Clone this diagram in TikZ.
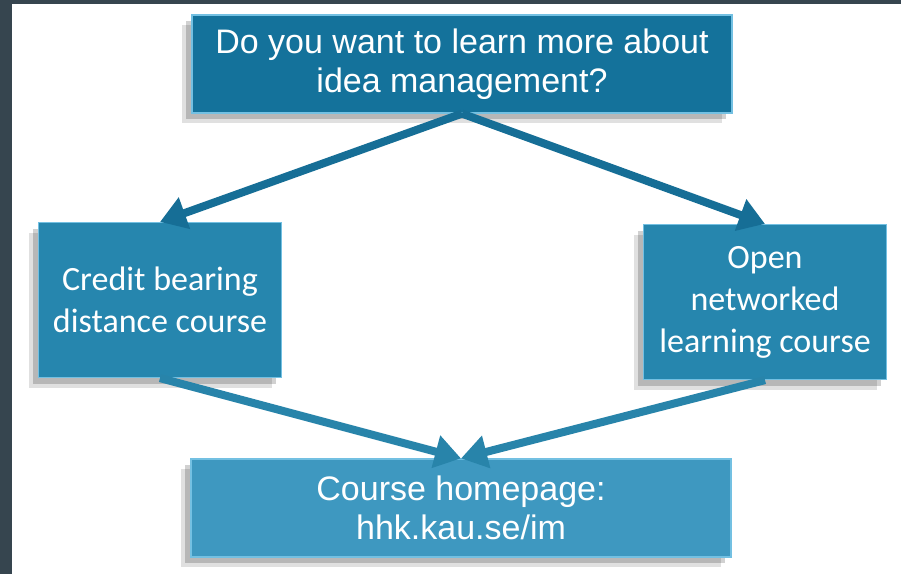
\documentclass[tikz,border=0pt]{standalone}
\usepackage{fontspec}
\setmainfont{Liberation Sans}
\newfontfamily\calibri{Carlito}
\usepackage{xcolor}
\usetikzlibrary{arrows.meta,shadows}
\definecolor{slate}{RGB}{54,69,79}
\definecolor{topblue}{RGB}{20,114,155}
\definecolor{midblue}{RGB}{38,134,174}
\definecolor{lowblue}{RGB}{62,152,192}
\definecolor{rimblue}{RGB}{115,192,226}
\definecolor{pipedark}{RGB}{22,110,150}
\definecolor{pipemid}{RGB}{40,132,170}
\tikzstyle{box} = [rectangle, draw=rimblue, line width=1.2pt, text=white, inner sep=0pt, align=center,
  drop shadow={shadow xshift=-10pt, shadow yshift=-10pt, opacity=0.12, fill=black},
  drop shadow={shadow xshift=-6pt, shadow yshift=-6pt, opacity=0.18, fill=black}]
\tikzstyle{wide} = [box, minimum width=540pt, minimum height=98pt, font=\fontsize{34}{39}\selectfont]
\tikzstyle{course} = [box, fill=midblue, minimum width=243pt, minimum height=155pt, font=\calibri\fontsize{34}{42}\selectfont]
\tikzstyle{pipe} = [line width=8pt]

\begin{document}
\begin{tikzpicture}[x=1pt,y=-1pt,->,>={Triangle[length=26pt,width=32pt]}]
  \useasboundingbox (0,0) rectangle (901,574);
  \fill[white] (0,0) rectangle (901,574);
  \fill[slate] (0,0) rectangle (12,574);
  \fill[slate] (0,0) rectangle (901,4);

  \node[wide, fill=topblue] (Q) at (462,64) {Do you want to learn more about\\idea management?};
  \node[course] (C_eins) at (160,300) {Credit bearing\\distance course};
  \node[course] (C_zwei) at (765,302) {Open\\networked\\learning course};
  \node[wide, fill=lowblue] (H) at (461,508) {Course homepage:\\hhk.kau.se/im};

  \path (Q.south) edge[pipe, draw=pipedark] (C_eins.north);
  \path (Q.south) edge[pipe, draw=pipedark] (C_zwei.north);
  \path (C_eins.south) edge[pipe, draw=pipemid] (H.north);
  \path (C_zwei.south) edge[pipe, draw=pipemid] (H.north);
\end{tikzpicture}
\end{document}
